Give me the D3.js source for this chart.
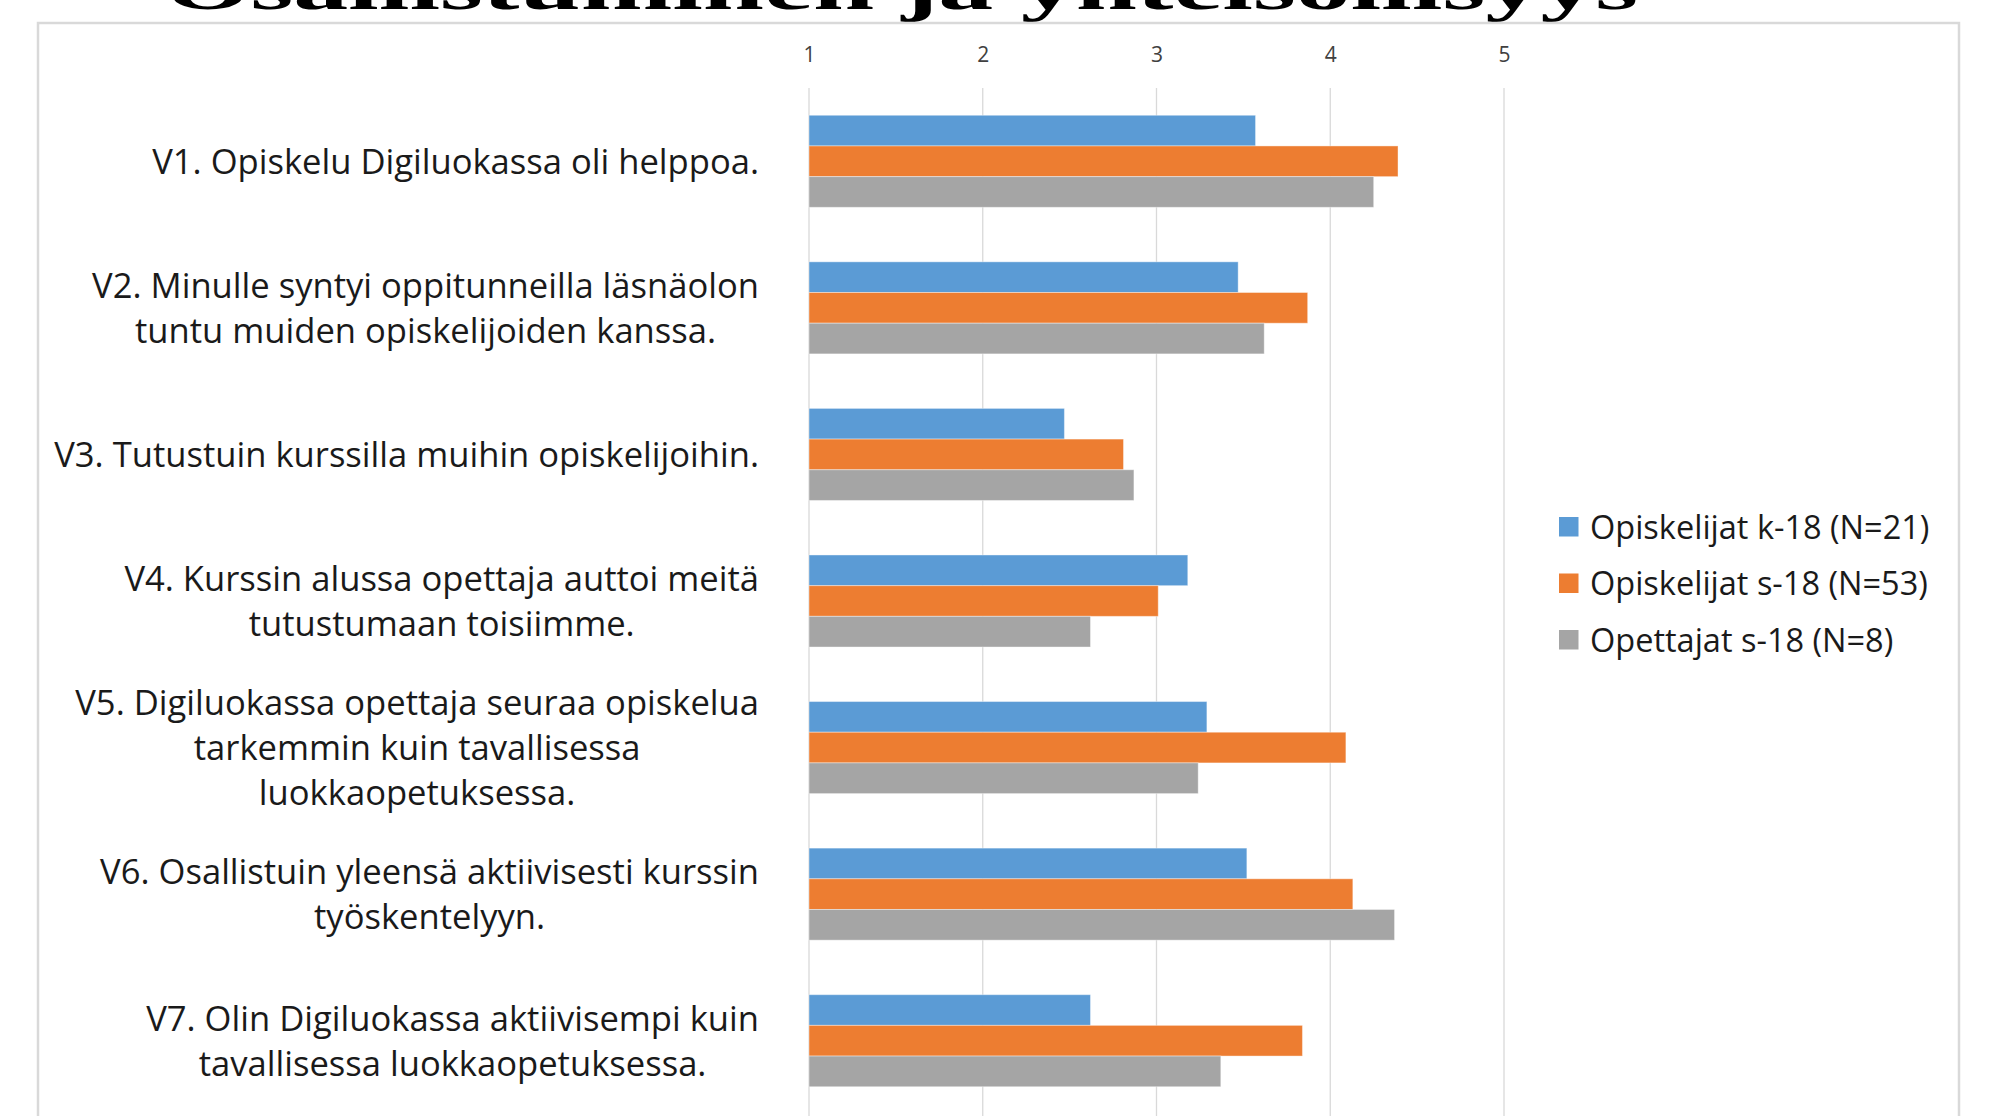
<!DOCTYPE html>
<html>
<head>
<meta charset="utf-8">
<script src="https://cdn.jsdelivr.net/npm/d3@7"></script>
<style>
  html, body { margin: 0; padding: 0; background: #fff; overflow: hidden; }
  svg { display: block; }
</style>
</head>
<body>
<svg id="chart"></svg>
<script>
// categories (each label split into its wrapped lines)
let categories = ['V1', 'V2', 'V3', 'V4', 'V5', 'V6', 'V7']
let labelLines = [
    ['V1. Opiskelu Digiluokassa oli helppoa.'],
    ['V2. Minulle syntyi oppitunneilla läsnäolon', 'tuntu muiden opiskelijoiden kanssa.'],
    ['V3. Tutustuin kurssilla muihin opiskelijoihin.'],
    ['V4. Kurssin alussa opettaja auttoi meitä', 'tutustumaan toisiimme.'],
    ['V5. Digiluokassa opettaja seuraa opiskelua', 'tarkemmin kuin tavallisessa', 'luokkaopetuksessa.'],
    ['V6. Osallistuin yleensä aktiivisesti kurssin', 'työskentelyyn.'],
    ['V7. Olin Digiluokassa aktiivisempi kuin', 'tavallisessa luokkaopetuksessa.']
]
let seriesNames = ['Opiskelijat k-18 (N=21)', 'Opiskelijat s-18 (N=53)', 'Opettajat s-18 (N=8)']
let k18 = [3.57, 3.47, 2.47, 3.18, 3.29, 3.52, 2.62]
let s18 = [4.39, 3.87, 2.81, 3.01, 4.09, 4.13, 3.84]
let teachers = [4.25, 3.62, 2.87, 2.62, 3.24, 4.37, 3.37]
let xTicks = [1, 2, 3, 4, 5]
let title = 'Osallistuminen ja yhteisöllisyys'

let series = [k18, s18, teachers]
let colors = ['#5B9BD5', '#ED7D31', '#A5A5A5']

let width = 1991
let height = 1116
let plotLeft = 809
let plotRight = 1504
let plotTop = 88
let plotBottom = 1114
let labelRight = 759

let svg = d3.select('#chart')
    .attr('width', width)
    .attr('height', height)

// big slide title, mostly cut off at the top edge (as on the slide)
svg.append('text')
    .attr('x', 165)
    .attr('y', 9)
    .attr('textLength', 1473)
    .attr('lengthAdjust', 'spacingAndGlyphs')
    .style('font-family', '"Liberation Serif", "DejaVu Serif", serif')
    .style('font-weight', 'bold')
    .style('font-size', '62px')
    .style('fill', '#000')
    .text(title)

// chart frame
svg.append('rect')
    .attr('x', 38)
    .attr('y', 23)
    .attr('width', 1959 - 38)
    .attr('height', height)
    .attr('fill', '#fff')
    .attr('stroke', '#d9d9d9')
    .attr('stroke-width', 2.5)

let xScale = d3.scaleLinear()
    .domain([1, 5])
    .range([plotLeft, plotRight])

let yScale = d3.scaleBand()
    .domain(categories)
    .range([plotTop, plotBottom])
    .paddingInner(0.372)
    .paddingOuter(0.186)

let inner = d3.scaleBand()
    .domain(d3.range(series.length))
    .range([0, yScale.bandwidth()])

// gridlines
svg.append('g')
    .selectAll('line')
    .data(xTicks)
    .enter()
    .append('line')
    .attr('x1', d => xScale(d))
    .attr('x2', d => xScale(d))
    .attr('y1', plotTop)
    .attr('y2', height)
    .attr('stroke', '#d9d9d9')
    .attr('stroke-width', 1.3)

// top axis labels
let xAxis = d3.axisTop(xScale)
    .tickValues(xTicks)
    .tickFormat(d3.format('d'))
    .tickSize(0)
let axisG = svg.append('g')
    .attr('transform', 'translate(0, 62)')
    .call(xAxis)
axisG.select('.domain').remove()
axisG.selectAll('text')
    .attr('y', 0)
    .attr('dy', 0)
    .style('font-family', '"Open Sans", sans-serif')
    .style('font-size', '21px')
    .style('fill', '#404040')

// bars
series.forEach((vals, si) => {
    svg.append('g')
        .selectAll('rect')
        .data(vals)
        .enter()
        .append('rect')
        .attr('x', xScale(1))
        .attr('y', (d, i) => yScale(categories[i]) + inner(si))
        .attr('width', d => xScale(d) - xScale(1))
        .attr('height', inner.bandwidth())
        .attr('fill', colors[si])
        .attr('stroke', '#fff')
        .attr('stroke-opacity', 0.4)
        .attr('stroke-width', 1)
})

// category labels: lines centred within a right-aligned block
let lineHeight = 45
let labelG = svg.append('g')
    .style('font-family', '"Open Sans", sans-serif')
    .style('font-size', '34.6px')
    .style('fill', '#1a1a1a')

labelLines.forEach((lines, i) => {
    let cy = yScale(categories[i]) + yScale.bandwidth() / 2
    let g = labelG.append('g')
    let texts = lines.map((line, li) => g.append('text')
        .attr('y', cy + (li - (lines.length - 1) / 2) * lineHeight)
        .attr('dy', '0.36em')
        .attr('text-anchor', 'middle')
        .text(line))
    let maxW = d3.max(texts, t => t.node().getComputedTextLength())
    texts.forEach(t => t.attr('x', labelRight - maxW / 2))
})

// legend
let legend = svg.append('g')
    .selectAll('g')
    .data(seriesNames)
    .enter()
    .append('g')
    .attr('transform', (d, i) => `translate(1559, ${527 + i * 56.5})`)

legend.append('rect')
    .attr('x', 0)
    .attr('y', -10)
    .attr('width', 19.5)
    .attr('height', 19.5)
    .attr('fill', (d, i) => colors[i])

legend.append('text')
    .attr('x', 31)
    .attr('y', 0)
    .attr('dy', '0.36em')
    .style('font-family', '"Open Sans", sans-serif')
    .style('font-size', '32.5px')
    .style('fill', '#1a1a1a')
    .text(d => d)
</script>
</body>
</html>
